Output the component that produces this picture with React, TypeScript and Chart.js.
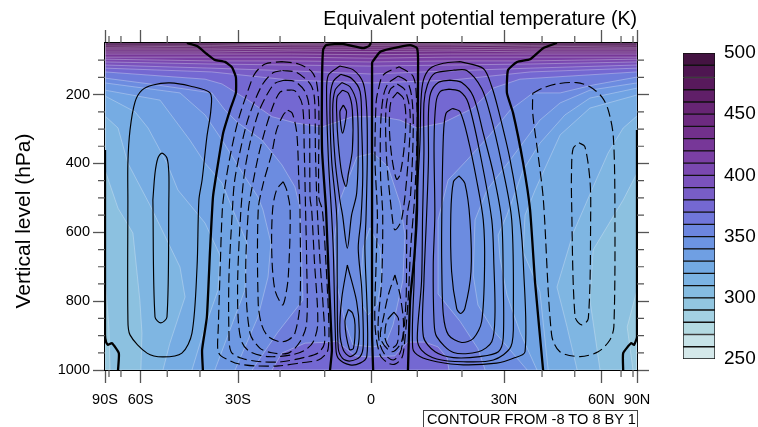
import React, { useEffect, useRef } from "react";
import { Chart, registerables } from "chart.js";

Chart.register(...registerables);

type P = [number, number];

const FONT = '"Liberation Sans", Arial, sans-serif';
const titleText = "Equivalent potential temperature (K)";
const yTitleText = "Vertical level (hPa)";
const contourNote = "CONTOUR FROM -8 TO 8 BY 1";

// x values are 100 x sin(latitude); y values are hPa
const xMajorValues = [-100, -86.6, -50, 0, 50, 86.6, 100];
const xMajorLabels = ["90S", "60S", "30S", "0", "30N", "60N", "90N"];
const xMinorValues = [-98.5, -94, -76.6, -64.3, -34.2, -17.4, 17.4, 34.2, 64.3, 76.6, 94, 98.5];
const yMajorValues = [200, 400, 600, 800, 1000];
const yMinorValues = [100, 150, 250, 300, 350, 450, 500, 550, 650, 700, 750, 850, 900, 950];

const colorbarLevels = [250, 260, 270, 280, 290, 300, 310, 320, 330, 340, 350, 360, 370, 380, 390, 400, 410, 420, 430, 440, 450, 460, 470, 480, 490];
const colorbarColors = ["#d4e8ea", "#c7e3e8", "#b3dae2", "#a3d1e3", "#92c6e0", "#85bce1", "#7bb3e3", "#73aae3", "#6f9fe3", "#6c94e2", "#6c86df", "#7076da", "#7468d2", "#785dc7", "#7a52bc", "#7a48b0", "#7a3fa4", "#773798", "#72308b", "#6d2a80", "#672574", "#601f68", "#58195c", "#4e1651", "#441342"];

// colours of the field's 10 K bands as seen in the plot
const fieldLevels = [280, 290, 300, 310, 320, 330, 340, 350, 360, 370, 380, 390, 400, 410, 420, 430, 440, 450, 460, 470];
const fieldColors = ["#98c9df", "#8cc1e0", "#7fb6e2", "#76ace3", "#70a3e3", "#6d98e2", "#6c8ce0", "#6e7ddb", "#7468d2", "#785dc7", "#7a52bc", "#7a48b0", "#7a3fa4", "#773798", "#72308b", "#6d2a80", "#672574", "#601f68", "#58195c", "#4e1651"];

// theta-e isolines, west side then east side (each band is 10 K)
const L290W: P[] = [[-100, 730], [-98.5, 880], [-98.1, 1000]];
const L300W: P[] = [[-100, 419], [-95.1, 530], [-89.5, 602], [-86.9, 797], [-86.1, 893], [-86.5, 1000]];
const L310W: P[] = [[-100, 262], [-95.1, 297], [-91.4, 399], [-83.1, 521], [-71.8, 701], [-69.9, 788], [-75.6, 922], [-78.2, 1000]];
const L320W: P[] = [[-100, 204], [-88.7, 250], [-83.8, 297], [-76.7, 399], [-72.6, 477], [-62.4, 573], [-56.8, 666], [-57.5, 768], [-62.4, 875], [-67.3, 1000]];
const L330W: P[] = [[-100, 187], [-79.3, 216], [-68.1, 332], [-62.4, 399], [-56, 457], [-51.9, 535], [-46.6, 631], [-47.4, 768], [-58.7, 1000]];
const L340W: P[] = [[-100, 166], [-71.8, 195], [-62.4, 259], [-56, 332], [-47.4, 439], [-42.5, 497], [-40.6, 535], [-37.6, 631], [-38.7, 730], [-42.5, 846], [-51.1, 1000]];
const L350W: P[] = [[-100, 152], [-83.1, 169], [-59.8, 195], [-54.9, 245], [-50, 282], [-41, 332], [-33.5, 404], [-28.6, 468], [-26.7, 527], [-25.6, 797], [-35, 890], [-44.7, 1000]];
const L290E: P[] = [[100, 768], [96.3, 875], [98.5, 1000]];
const L300E: P[] = [[100, 428], [94.8, 506], [83.5, 651], [82.3, 797], [86.1, 1000]];
const L310E: P[] = [[100, 262], [94.8, 297], [89.1, 370], [83.5, 468], [76, 602], [69.9, 759], [73.7, 875], [77.5, 1000]];
const L320E: P[] = [[100, 201], [82.3, 239], [71.1, 317], [61.7, 477], [57.9, 550], [57.2, 657], [63.5, 773], [66.6, 1000]];
const L330E: P[] = [[100, 181], [82.3, 210], [72.9, 259], [63.5, 341], [57.2, 419], [51.1, 550], [47.8, 608], [48.5, 675], [51.1, 782], [56, 890], [62.4, 1000]];
const L340E: P[] = [[100, 166], [82.3, 187], [71.1, 224], [63.5, 274], [52.3, 390], [43.6, 477], [39.1, 564], [38.4, 724], [40.2, 811], [45.9, 884], [58.7, 1000]];
const L350E: P[] = [[100, 149], [83.5, 172], [71.1, 195], [60.9, 195], [52.3, 245], [44.7, 317], [36.1, 390], [29, 448], [25.2, 564], [25.2, 779], [33.5, 859], [40.2, 938], [42.9, 1000]];
const L360Arch: P[] = [[-100, 134], [-62.4, 155], [-56, 169], [-46.2, 216], [-37.2, 264], [-28.6, 282], [-18.4, 294], [-6.8, 264], [3.4, 264], [10.9, 274], [17.3, 297], [27.1, 282], [38.4, 239], [45.9, 181], [56, 155], [100, 134]];
const L360Lobe: P[] = [[-37.2, 1000], [-33.5, 951], [-24.8, 922], [-15.4, 919], [-12.8, 916], [-6, 959], [-0.4, 962], [9, 959], [10.9, 942], [13.9, 919], [20.3, 919], [25.2, 933], [28.6, 965], [29.3, 1000]];
const Low350: P[] = [[-11.7, 506], [-5.3, 381], [0.8, 370], [6.4, 410], [10.9, 515], [12.8, 608], [12, 739], [8.3, 869], [5.3, 927], [0.4, 933], [-6.8, 927], [-9.8, 861], [-12.8, 753], [-13.9, 622]];
const Low340: P[] = [[-0.4, 587], [3.4, 646], [4.1, 733], [2.3, 811], [-1.1, 840], [-3.4, 811], [-3.8, 744], [-3, 646]];

const upperX = [-100, -60, -30, 0, 30, 60, 100];
const U370 = [123, 134, 158, 166, 158, 134, 123];
const U380 = [114, 123, 131, 140, 131, 123, 114];
const U390 = [105, 111, 114, 117, 114, 111, 105];
const U400 = [97, 102, 102, 105, 102, 102, 97];
const U410 = [91, 91, 91, 94, 91, 91, 91];
const U420 = [82, 82, 82, 84, 82, 82, 82];
const U430 = [76, 76, 73, 75, 73, 76, 76];
const U440 = [70, 70, 68, 68, 68, 70, 70];
const U450 = [65, 65, 62, 62, 62, 65, 65];
const U460 = [62, 59, 56, 57, 56, 59, 62];
const U470 = [56, 56, 53, 53, 53, 56, 56];

// Streamfunction zero lines
const Z1: P[] = [[-69.2, 50], [-65.4, 59], [-61.7, 82], [-58.7, 99], [-54.9, 105], [-52.3, 120], [-50.8, 149], [-50.8, 195], [-53, 245], [-55.6, 312], [-57.9, 419], [-59.4, 497], [-60.5, 651], [-61.7, 846], [-63.5, 942], [-63.2, 1000]];
const Z2: P[] = [[0, 50], [-0.8, 59], [-3, 65], [-10.5, 53], [-16.9, 56], [-18, 70], [-18.4, 158], [-18.4, 361], [-16.9, 535], [-15.8, 747], [-14.7, 942], [-15.4, 1000]];
const Z3: P[] = [[0.8, 1000], [0.4, 893], [0.4, 506], [0.4, 108], [0.8, 102], [3.4, 76], [7.1, 67], [14.7, 56], [17.3, 65], [17.7, 108], [17.3, 535], [16.2, 680], [14.7, 797], [13.9, 1000]];
const Z4: P[] = [[69.9, 50], [64.7, 65], [59.8, 97], [54.9, 105], [51.5, 129], [51.1, 195], [53.4, 253], [57.2, 399], [59.8, 535], [61.7, 747], [64.7, 1000]];
const Z5: P[] = [[-95.1, 1000], [-94.8, 951], [-97.4, 922], [-98.9, 927], [-99.6, 919], [-100, 898], [-100, 361]];
const Z6: P[] = [[94.8, 1000], [94.8, 951], [97.8, 922], [98.9, 927], [100, 904], [100, 303]];

// Positive contours
const S1: P[] = [[-91.4, 506], [-91.4, 846], [-90.6, 898], [-84.2, 951], [-78.2, 962], [-71.1, 951], [-67.3, 893], [-65.4, 701], [-64.7, 506], [-63.5, 448], [-61.7, 323], [-60.2, 245], [-60.5, 195], [-68.1, 175], [-75.6, 166], [-82, 172], [-86.1, 187], [-88.7, 221], [-90.6, 303], [-91.4, 399]];
const S2: P[] = [[-82, 506], [-81.2, 846], [-79, 863], [-76.7, 846], [-76, 506], [-76, 428], [-76.7, 384], [-78.6, 370], [-80.1, 384], [-81.2, 428]];
const T1: P[] = [[-11.7, 117], [-6.65, 128], [-2.9, 167], [-1.6, 245], [-1.4, 390], [-1.9, 564], [-2.3, 646], [-1.4, 840], [-1.6, 961], [-4.1, 980], [-7.9, 985], [-12.3, 966], [-13.2, 937], [-14.2, 646], [-14.8, 550], [-16, 390], [-16.7, 196], [-16, 143]];
const T2: P[] = [[-11.4, 141], [-7.3, 153], [-4.1, 191], [-3.5, 293], [-3.1, 438], [-3.8, 564], [-4.8, 646], [-3.5, 763], [-2.9, 927], [-4.1, 961], [-7.9, 974], [-10.7, 966], [-12.3, 937], [-12.7, 743], [-12.9, 550], [-14.8, 390], [-15.4, 216], [-14.2, 162]];
const T3: P[] = [[-11, 165], [-7.9, 177], [-5.4, 225], [-4.8, 342], [-5.4, 487], [-7.3, 550], [-8.9, 646], [-10.7, 550], [-11.7, 506], [-13.5, 390], [-14.4, 245], [-13.5, 187]];
const T4: P[] = [[-10.7, 187], [-8.5, 196], [-7, 245], [-7, 361], [-8.5, 429], [-9.4, 467], [-11, 429], [-12.3, 342], [-12.9, 254], [-12.7, 206]];
const T5: P[] = [[-10.4, 230], [-9.2, 250], [-10.7, 312], [-11.7, 250]];
const T6: P[] = [[-8.9, 695], [-5.4, 801], [-4.4, 888], [-5.4, 947], [-7.9, 961], [-10.4, 942], [-11.7, 888], [-11, 792]];
const T7: P[] = [[-8.5, 824], [-6.9, 835], [-6, 869], [-6.6, 937], [-8.1, 940], [-9.8, 859]];
const N1: P[] = [[33.5, 104], [42.2, 124], [45.4, 177], [47.9, 245], [52.3, 390], [56, 564], [57.3, 695], [57.9, 947], [53.5, 966], [47.2, 980], [34.7, 985], [24.7, 976], [18.4, 961], [15.7, 937], [16.2, 743], [16.9, 550], [18.4, 342], [18.8, 216], [19.7, 158], [22.2, 124], [27.2, 109]];
const N2: P[] = [[31, 129], [36, 130], [41.6, 182], [44.7, 254], [49.1, 400], [52.9, 564], [53.5, 840], [52.6, 932], [46, 971], [34.7, 976], [24.7, 968], [19, 942], [17.4, 908], [19, 743], [19.4, 550], [19.9, 371], [19.9, 225], [21.2, 172], [24, 138]];
const N3: P[] = [[29.7, 158], [34.1, 165], [38.5, 206], [42.2, 312], [46, 429], [49.1, 564], [49.7, 743], [49.7, 908], [47.9, 947], [41, 961], [31, 964], [24.1, 947], [19.7, 903], [19.9, 743], [20.9, 550], [21.6, 390], [21.6, 254], [22.4, 196], [25.3, 165]];
const N4: P[] = [[29.4, 184], [33.5, 191], [36.6, 225], [41, 371], [45.4, 564], [46.2, 695], [46.6, 840], [45.4, 918], [40.4, 947], [31, 949], [24.7, 903], [23.7, 859], [23.4, 695], [24, 550], [23.7, 342], [24.4, 225], [26, 191]];
const N5: P[] = [[30.7, 240], [33.5, 250], [36.6, 332], [39.7, 448], [42.2, 564], [42.7, 695], [41.6, 859], [38.5, 908], [34.1, 920], [29.1, 898], [27.2, 840], [26.6, 695], [26.6, 564], [27.2, 322], [28.2, 254]];
const N6: P[] = [[33.1, 436], [35.3, 458], [37.2, 564], [37.6, 714], [35.3, 821], [33.7, 836], [32.2, 821], [30.3, 714], [30, 550], [31, 453]];

// Negative contours
const DS1: P[] = [[-33.6, 104], [-27.3, 111], [-22.3, 133], [-20.4, 167], [-19.6, 245], [-19.6, 500], [-18.3, 535], [-17, 680], [-15.8, 874], [-16, 932], [-16.7, 951], [-19.8, 971], [-26, 979], [-34.8, 988], [-43.6, 988], [-49.9, 982], [-53, 973], [-56.4, 959], [-57.6, 942], [-57.4, 874], [-56.8, 729], [-55.9, 535], [-54.9, 467], [-53, 380], [-49.9, 274], [-45.5, 172], [-43.6, 138], [-39.8, 111]];
const DS2: P[] = [[-33.3, 130], [-27.9, 136], [-22.6, 172], [-21.2, 216], [-20.9, 361], [-20.4, 500], [-20.2, 535], [-19.2, 680], [-17.9, 826], [-17.5, 922], [-19.8, 950], [-24.8, 963], [-33.6, 976], [-41.1, 976], [-48.6, 966], [-52.6, 947], [-53.4, 893], [-53.4, 729], [-52.1, 535], [-51.4, 458], [-49.9, 390], [-46.7, 283], [-43.6, 216], [-40.5, 167], [-36.7, 136]];
const DS3: P[] = [[-32.6, 158], [-28.6, 162], [-24.8, 191], [-23.3, 235], [-22.9, 500], [-22.3, 535], [-21.3, 680], [-20, 864], [-21.7, 918], [-24.8, 942], [-29.8, 956], [-38.6, 961], [-45.5, 947], [-48.6, 918], [-49.9, 855], [-50.1, 729], [-48.9, 535], [-47.6, 429], [-45.5, 341], [-42.4, 254], [-39.2, 201], [-36.1, 167]];
const DS4: P[] = [[-31.7, 187], [-28.6, 189], [-25.8, 230], [-25.1, 361], [-24.6, 535], [-24.2, 680], [-24.2, 864], [-26.7, 918], [-31.1, 951], [-37.3, 950], [-41.7, 937], [-45.5, 893], [-47.1, 729], [-46.1, 535], [-44.9, 477], [-42.4, 380], [-39.8, 303], [-36.7, 230], [-34.2, 193]];
const DS5: P[] = [[-31.3, 245], [-29.6, 254], [-27.9, 312], [-27.1, 458], [-26.7, 535], [-26.7, 806], [-28.6, 893], [-31.1, 913], [-34.2, 918], [-38.6, 903], [-41.1, 869], [-42.4, 806], [-42.4, 535], [-40.5, 458], [-37.3, 370], [-35.5, 303], [-33, 259]];
const DS6: P[] = [[-33, 453], [-31.7, 477], [-30.4, 535], [-31.1, 729], [-32.3, 792], [-33.3, 811], [-36.1, 768], [-37.3, 661], [-37, 535], [-35.5, 477]];
const DN1: P[] = [[10.6, 119], [15.9, 148], [17.2, 225], [17.4, 293], [16.5, 487], [14.9, 646], [14, 792], [12.4, 937], [11.5, 966], [9, 983], [6.5, 980], [3.4, 956], [1.5, 869], [1.9, 695], [2.4, 550], [1.5, 390], [1.9, 225], [2.7, 187], [4.6, 143]];
const DN2: P[] = [[10.3, 146], [13.6, 162], [15.3, 206], [15.9, 293], [14.9, 487], [13.6, 550], [13.4, 646], [13.2, 792], [12.1, 908], [10.9, 951], [8.4, 971], [5.3, 956], [3.1, 918], [2.7, 859], [4, 743], [4.4, 550], [3.6, 438], [3.6, 293], [4.6, 206], [6.5, 167]];
const DN3: P[] = [[9.9, 169], [12.8, 187], [14.7, 254], [14, 390], [11.5, 564], [9, 593], [8.1, 564], [5.9, 390], [5.6, 245], [7.1, 187]];
const DN4: P[] = [[9.9, 193], [12.2, 211], [13.1, 264], [12.5, 351], [10.9, 433], [9.6, 446], [7.8, 380], [6.9, 293], [7.5, 220]];
const DL1: P[] = [[9, 724], [10.9, 782], [12.2, 860], [11.5, 918], [7.8, 947], [3.6, 908], [4.9, 840], [6.5, 782]];
const DL2: P[] = [[8.6, 832], [10.3, 850], [9.9, 922], [7.4, 937], [5.3, 908], [5.9, 859]];
const ND1: P[] = [[60.8, 196], [64.2, 182], [69.8, 169], [77.3, 165], [82.3, 177], [86.7, 206], [89.2, 245], [91.1, 322], [91.7, 535], [91.3, 874], [89.8, 913], [85.4, 947], [78.6, 961], [71, 947], [67.9, 898], [64.8, 506], [62.9, 380], [60.8, 254]];
const ND2: P[] = [[78.2, 340], [80.4, 351], [82.3, 448], [82.6, 535], [81.7, 850], [79.2, 869], [76.7, 845], [75.4, 506], [75.4, 419], [76, 356]];

const zeroLines = [Z1, Z2, Z3, Z4, Z5, Z6];
const solidLoops = [S1, S2, T1, T2, T3, T4, T5, T6, T7, N1, N2, N3, N4, N5, N6];
const dashedLoops = [DS1, DS2, DS3, DS4, DS5, DS6, DN1, DN2, DN3, DN4, DL1, DL2, ND1, ND2];

const colorOf = (level: number) => fieldColors[fieldLevels.indexOf(level)];
const pts = (a: P[]) => a.map(([x, y]) => ({ x, y }));
const closed = (a: P[]) => pts([...a, a[0]]);
const NW: P = [-100, 50];
const NE: P = [100, 50];
const SE: P = [100, 1000];
const SW: P = [-100, 1000];
const band = (w: P[], e: P[]) => closed([NW, ...w, ...[...e].reverse(), NE]);
const upperBand = (u: number[]) => closed([NW, ...upperX.map((x, i) => [x, u[i]] as P), NE]);

function fillSet(level: number, data: { x: number; y: number }[]) {
  return {
    data,
    fill: "shape",
    backgroundColor: colorOf(level),
    borderColor: "rgba(235,240,250,0.42)",
    borderWidth: 0.8,
    pointRadius: 0,
    tension: 0,
  };
}
function lineSet(data: { x: number; y: number }[], width: number, dash: number[], tension: number) {
  return {
    data,
    fill: false,
    borderColor: "#000",
    borderWidth: width,
    borderDash: dash,
    pointRadius: 0,
    tension,
  };
}

function buildDatasets() {
  const list: any[] = [
    fillSet(280, closed([NW, NE, SE, SW])),
    fillSet(290, band(L290W, L290E)),
    fillSet(300, band(L300W, L300E)),
    fillSet(310, band(L310W, L310E)),
    fillSet(320, band(L320W, L320E)),
    fillSet(330, band(L330W, L330E)),
    fillSet(340, band(L340W, L340E)),
    fillSet(350, band(L350W, L350E)),
    fillSet(340, closed(Low350)),
    fillSet(330, closed(Low340)),
    fillSet(360, closed(L360Lobe)),
    fillSet(360, closed([NW, ...L360Arch, NE])),
    fillSet(370, upperBand(U370)),
    fillSet(380, upperBand(U380)),
    fillSet(390, upperBand(U390)),
    fillSet(400, upperBand(U400)),
    fillSet(410, upperBand(U410)),
    fillSet(420, upperBand(U420)),
    fillSet(430, upperBand(U430)),
    fillSet(440, upperBand(U440)),
    fillSet(450, upperBand(U450)),
    fillSet(460, upperBand(U460)),
    fillSet(470, upperBand(U470)),
  ];
  solidLoops.forEach((l) => list.push(lineSet(closed(l), 1.15, [], 0.3)));
  dashedLoops.forEach((l) => list.push(lineSet(closed(l), 1.15, [10, 4.5], 0.3)));
  zeroLines.forEach((l) => list.push(lineSet(pts(l), 2.3, [], 0.15)));
  const n = list.length;
  list.forEach((d, i) => (d.order = n - i));
  return list;
}

const extras = {
  id: "extras",
  afterDraw(chart: any) {
    const { ctx, chartArea: a, scales } = chart;
    ctx.save();
    ctx.strokeStyle = "#555";
    ctx.lineWidth = 1.2;
    ctx.beginPath();
    xMinorValues.forEach((v) => {
      const x = scales.x.getPixelForValue(v);
      ctx.moveTo(x, a.bottom);
      ctx.lineTo(x, a.bottom + 7);
      ctx.moveTo(x, a.top);
      ctx.lineTo(x, a.top - 7);
    });
    yMinorValues.forEach((v) => {
      const y = scales.y.getPixelForValue(v);
      ctx.moveTo(a.left, y);
      ctx.lineTo(a.left - 7, y);
      ctx.moveTo(a.right, y);
      ctx.lineTo(a.right + 7, y);
    });
    ctx.stroke();
    ctx.translate(24.5, 221);
    ctx.rotate(-Math.PI / 2);
    ctx.fillStyle = "#000";
    ctx.font = `21px ${FONT}`;
    ctx.textAlign = "center";
    ctx.textBaseline = "middle";
    ctx.fillText(yTitleText, 0, 0);
    ctx.restore();
  },
};

const majorGrid = { drawOnChartArea: false, drawTicks: true, tickLength: 13, tickColor: "#555", tickWidth: 1.3 };
const frame = { display: true, color: "#000", width: 2 };

export default function App() {
  const mainRef = useRef<HTMLCanvasElement>(null);
  const barRef = useRef<HTMLCanvasElement>(null);

  useEffect(() => {
    const setX = (s: any) => {
      s.ticks = xMajorValues.map((value) => ({ value }));
    };
    const setY = (s: any) => {
      s.ticks = yMajorValues.map((value) => ({ value }));
    };
    const main = new Chart(mainRef.current!, {
      type: "line",
      data: { datasets: buildDatasets() },
      plugins: [extras],
      options: {
        animation: false,
        responsive: false,
        events: [],
        layout: { padding: 0 },
        plugins: { legend: { display: false }, tooltip: { enabled: false }, title: { display: false } },
        scales: {
          x: {
            type: "linear",
            position: "bottom",
            min: -100,
            max: 100,
            afterBuildTicks: setX,
            afterFit: (s: any) => { s.height = 57; },
            grid: majorGrid,
            border: frame,
            ticks: {
              autoSkip: false,
              maxRotation: 0,
              padding: 8,
              color: "#000",
              font: { family: FONT, size: 14.5 },
              callback: (_v: any, i: number) => xMajorLabels[i],
            },
          },
          xTop: {
            type: "linear",
            position: "top",
            min: -100,
            max: 100,
            afterBuildTicks: setX,
            afterFit: (s: any) => { s.height = 43; },
            grid: majorGrid,
            border: frame,
            ticks: { display: false },
            title: {
              display: true,
              text: titleText,
              align: "end",
              color: "#000",
              font: { family: FONT, size: 19.6 },
              padding: { top: 8, bottom: 0 },
            },
          },
          y: {
            type: "linear",
            position: "left",
            reverse: true,
            min: 50,
            max: 1000,
            afterBuildTicks: setY,
            afterFit: (s: any) => { s.width = 105; },
            grid: { ...majorGrid, tickLength: 12 },
            border: frame,
            ticks: {
              autoSkip: false,
              padding: 3,
              color: "#000",
              font: { family: FONT, size: 14.5 },
              callback: (v: any) => String(v),
            },
          },
          yRight: {
            type: "linear",
            position: "right",
            reverse: true,
            min: 50,
            max: 1000,
            afterBuildTicks: setY,
            afterFit: (s: any) => { s.width = 121; },
            grid: { ...majorGrid, tickLength: 12 },
            border: frame,
            ticks: { display: false },
          },
        },
      },
    } as any);

    const bar = new Chart(barRef.current!, {
      type: "bar",
      data: {
        labels: ["K"],
        datasets: colorbarLevels.map((level, i) => ({
          data: [[level, level + 10]],
          backgroundColor: colorbarColors[i],
          borderColor: "#111",
          borderWidth: 1,
          borderSkipped: false,
          barPercentage: 1,
          categoryPercentage: 1,
          grouped: false,
        })),
      },
      options: {
        animation: false,
        responsive: false,
        events: [],
        layout: { autoPadding: false, padding: { left: 7, top: 8, bottom: 11, right: 0 } },
        plugins: { legend: { display: false }, tooltip: { enabled: false } },
        scales: {
          x: { display: false },
          y: {
            position: "right",
            min: 250,
            max: 500,
            afterFit: (s: any) => {
              s.width = 43;
              s.paddingTop = 0;
              s.paddingBottom = 0;
            },
            grid: { display: false, drawTicks: false },
            border: { display: false },
            ticks: { stepSize: 50, padding: 9, color: "#000", font: { family: FONT, size: 19 } },
          },
        },
      },
    } as any);

    return () => {
      main.destroy();
      bar.destroy();
    };
  }, []);

  return (
    <div style={{ position: "fixed", left: 0, top: 0, width: 758, height: 427, overflow: "hidden", background: "#fff" }}>
      <canvas ref={mainRef} width={758} height={427} style={{ position: "absolute", left: 0, top: 0 }} />
      <canvas ref={barRef} width={82} height={325} style={{ position: "absolute", left: 676, top: 45 }} />
      <div
        style={{
          position: "absolute",
          left: 423,
          top: 410,
          width: 215,
          height: 20,
          border: "1px solid #444",
          font: `14.6px ${FONT}`,
          lineHeight: "17px",
          paddingLeft: 3,
          boxSizing: "border-box",
          whiteSpace: "nowrap",
          color: "#000",
        }}
      >
        {contourNote}
      </div>
    </div>
  );
}
